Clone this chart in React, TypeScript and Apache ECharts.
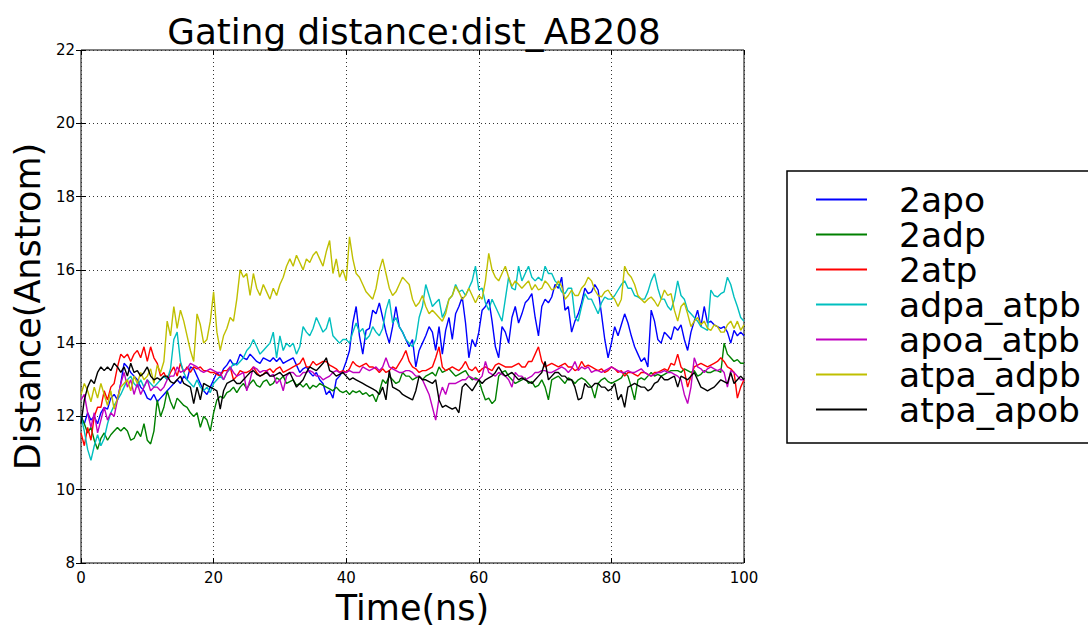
import React, { useEffect, useRef } from "react";
import * as echarts from "echarts";

// Sampling interval of the trajectories (ns)
const TIME_STEP = 0.5;

const SERIES_NAMES = ["2apo", "2adp", "2atp", "adpa_atpb", "apoa_atpb", "atpa_adpb", "atpa_apob"];
const SERIES_COLORS = ["#0000ff", "#008000", "#ff0000", "#00bfbf", "#bf00bf", "#bfbf00", "#000000"];

const X_TICKS = [0, 20, 40, 60, 80, 100];
const Y_TICKS = [8, 10, 12, 14, 16, 18, 20, 22];

// dist_AB208 (Angstrom), one value every 0.5 ns from 0 to 100 ns
const apo2 = [
  12.0, 11.8, 12.1, 11.9, 12.0, 11.8, 12.1, 12.25, 12.2, 12.5, 12.6, 12.45, 12.9, 13.45, 13.35, 13.2, 13.1, 13.0, 12.8, 12.7,
  12.5, 12.45, 12.6, 12.4, 12.5, 12.6, 12.7, 12.8, 12.9, 13.0, 12.9, 13.1, 13.0, 13.35, 13.3, 13.1, 12.9, 12.7, 12.6, 12.8,
  13.0, 13.2, 13.1, 13.3, 13.4, 13.55, 13.4, 13.45, 13.7, 13.6, 13.55, 13.7, 13.6, 13.5, 13.45, 13.6, 13.55, 13.5, 13.6, 13.5,
  13.6, 13.45, 13.5, 13.55, 13.6, 13.4, 13.2, 13.3, 13.35, 13.2, 13.1, 13.2, 13.0, 12.9, 12.6, 12.7, 12.5, 13.0, 13.1, 13.25,
  13.5, 13.8, 14.55, 15.0, 14.2, 13.7, 14.35, 14.4, 14.9, 14.8, 15.1, 14.7, 14.3, 14.0, 14.45, 15.0, 14.45, 14.3, 14.1, 13.9,
  14.1, 13.35, 13.8, 14.0, 14.2, 14.45, 14.3, 13.8, 14.45, 13.7, 14.35, 14.7, 14.1, 14.8, 15.0, 15.26, 14.55, 13.6, 14.1, 13.9,
  14.3, 14.9, 15.0, 15.2, 14.6, 13.9, 13.6, 14.45, 14.3, 14.0, 14.7, 15.0, 14.55, 14.8, 15.1, 15.2, 15.35, 14.7, 14.2, 15.0,
  15.2, 15.1, 15.26, 15.6, 15.5, 15.8, 14.9, 15.0, 14.3, 14.6, 14.8, 15.1, 15.5, 15.35, 15.4, 15.6, 15.45, 14.8, 14.1, 13.6,
  14.0, 14.45, 14.2, 14.5, 14.8, 14.55, 14.2, 13.9, 13.7, 13.5, 13.6, 13.35, 14.9, 14.6, 14.1, 14.0, 14.3, 14.2, 14.1, 14.45,
  14.35, 14.5, 14.1, 13.8, 14.3, 14.6, 14.9, 14.45, 15.0, 14.55, 14.6, 14.5, 14.45, 14.4, 14.45, 14.3, 14.0, 14.35, 14.2, 14.3,
  14.2,
];

const adp2 = [
  12.0, 11.8, 11.55, 11.7, 11.35, 11.1, 11.4, 11.55, 11.35, 11.5, 11.6, 11.7, 11.6, 11.7, 11.6, 11.35, 11.4, 11.6, 11.45, 11.8,
  11.35, 11.25, 11.6, 12.45, 12.0, 12.25, 12.7, 12.4, 12.2, 12.5, 12.4, 12.3, 12.25, 12.1, 12.0, 12.1, 11.7, 12.0, 11.9, 11.6,
  12.1, 12.45, 12.55, 12.5, 12.65, 12.7, 12.8, 12.65, 12.8, 12.9, 12.75, 12.9, 13.0, 12.85, 12.8, 12.95, 13.0, 12.85, 12.9, 13.05,
  13.0, 13.1, 12.9, 12.95, 13.0, 12.85, 12.9, 12.8, 12.9, 12.75, 12.85, 12.8, 12.9, 12.85, 12.8, 12.75, 12.7, 12.8, 12.7, 12.65,
  12.7, 12.6, 12.7, 12.65, 12.7, 12.6, 12.65, 12.55, 12.6, 12.4, 12.67, 13.0, 12.9, 13.1, 13.0, 12.9, 12.95, 13.2, 13.1, 13.1,
  13.0, 13.05, 13.1, 13.0, 13.1, 13.15, 13.2, 13.1, 13.35, 13.2, 13.25, 13.3, 13.2, 13.1, 13.15, 13.2, 13.25, 13.1, 13.0, 13.05,
  13.0, 12.7, 12.45, 12.5, 12.35, 12.45, 13.1, 13.2, 13.25, 13.1, 13.0, 12.9, 12.95, 13.0, 13.05, 12.9, 12.95, 12.8, 12.85, 13.0,
  12.8, 12.45, 13.0, 13.05, 13.1, 13.0, 12.9, 13.05, 13.0, 12.9, 13.0, 13.05, 13.0, 12.9, 12.8, 12.5, 12.9, 13.0, 13.05, 12.95,
  12.9, 12.95, 13.0, 13.05, 13.2, 13.1, 12.8, 12.45, 13.0, 13.05, 13.0, 13.1, 13.2, 13.1, 13.15, 13.1, 13.15, 13.2, 13.25, 13.25,
  13.25, 13.2, 13.3, 13.25, 13.2, 13.25, 13.1, 13.15, 13.25, 13.2, 13.2, 13.25, 13.25, 13.2, 14.0, 13.7, 13.6, 13.5, 13.55, 13.45,
  13.45,
];

const atp2 = [
  11.55, 11.2, 11.7, 11.35, 12.0, 12.25, 12.25, 12.7, 12.45, 12.8, 12.9, 13.35, 13.7, 13.6, 13.7, 13.5, 13.7, 13.8, 13.6, 13.9,
  13.5, 13.9, 13.6, 13.45, 13.1, 13.2, 13.0, 13.2, 13.35, 13.1, 13.45, 13.2, 13.35, 13.2, 13.35, 13.3, 13.35, 13.25, 13.25, 13.2,
  13.2, 13.15, 13.1, 13.25, 13.25, 13.35, 13.0, 13.1, 13.25, 13.2, 13.2, 13.25, 13.35, 13.2, 13.1, 13.15, 13.25, 13.3, 13.2, 13.3,
  13.35, 13.2, 13.25, 13.3, 13.35, 13.4, 13.45, 13.6, 13.35, 13.35, 13.5, 13.4, 13.45, 13.5, 13.5, 13.4, 13.35, 13.3, 13.2, 13.25,
  13.2, 13.3, 13.5, 13.4, 13.35, 13.4, 13.45, 13.35, 13.35, 13.3, 13.2, 13.3, 13.2, 13.25, 13.35, 13.3, 13.45, 13.6, 13.8, 13.5,
  13.35, 13.3, 13.2, 13.25, 13.25, 13.3, 13.35, 13.6, 13.9, 13.35, 13.25, 13.3, 13.35, 13.3, 13.25, 13.35, 13.5, 13.3, 13.25, 13.35,
  13.2, 13.3, 13.35, 13.3, 13.25, 13.4, 13.45, 13.4, 13.35, 13.35, 13.35, 13.4, 13.45, 13.35, 13.35, 13.5, 13.5, 13.7, 13.9, 13.5,
  13.35, 13.4, 13.45, 13.4, 13.35, 13.4, 13.45, 13.35, 13.35, 13.25, 13.3, 13.5, 13.35, 13.4, 13.35, 13.3, 13.25, 13.3, 13.2, 13.25,
  13.35, 13.3, 13.2, 13.25, 13.1, 13.2, 13.2, 13.15, 13.1, 13.2, 13.2, 13.15, 13.1, 13.2, 13.2, 13.25, 13.3, 13.25, 13.45, 13.4,
  13.7, 13.35, 13.25, 12.8, 13.1, 13.35, 13.4, 13.45, 13.4, 13.35, 13.4, 13.45, 13.5, 13.6, 13.5, 13.35, 13.3, 13.2, 12.5, 12.8,
  13.0,
];

const adpaAtpb = [
  12.0, 11.6, 11.1, 10.8, 11.2, 11.5, 11.2, 11.4, 11.8, 12.1, 12.3, 12.45, 12.6, 12.8, 13.0, 13.1, 12.9, 12.8, 13.0, 12.8,
  13.0, 12.9, 12.8, 12.9, 13.0, 13.1, 13.0, 13.3, 14.1, 14.3, 13.5, 13.2, 13.0, 12.9, 12.8, 13.0, 12.8, 12.7, 12.8, 12.65,
  12.9, 13.0, 13.1, 13.0, 13.2, 13.3, 13.45, 13.4, 13.5, 13.6, 13.8, 13.9, 14.1, 13.9, 13.7, 13.8, 13.9, 14.0, 14.3, 13.6,
  14.2, 13.8, 14.0, 13.9, 14.0, 13.7, 13.9, 14.45, 14.3, 14.2, 14.4, 14.7, 14.5, 14.3, 14.4, 14.7, 14.2, 14.1, 14.0, 14.1,
  14.1, 14.0, 14.3, 14.55, 14.3, 14.4, 14.1, 14.2, 14.45, 14.3, 14.2, 14.4, 14.9, 15.2, 14.55, 14.7, 14.45, 14.3, 14.1, 14.0,
  13.9, 14.1, 14.7, 15.0, 15.6, 15.3, 15.0, 15.1, 15.2, 14.7, 14.9, 15.2, 15.3, 15.6, 15.4, 15.45, 15.3, 15.5, 15.7, 16.1,
  15.45, 15.5, 15.1, 14.9, 15.2, 15.0, 14.8, 14.6, 15.2, 15.8, 15.5, 15.45, 16.1, 15.7, 15.9, 16.1, 15.8, 15.7, 15.8, 15.7,
  16.1, 15.9, 15.9, 15.7, 15.6, 15.4, 15.35, 15.5, 15.5, 14.7, 14.6, 15.0, 15.35, 15.2, 15.2, 15.0, 14.8, 15.1, 15.26, 15.2,
  15.2, 15.3, 15.45, 15.6, 15.7, 15.5, 15.5, 15.3, 15.26, 15.2, 15.2, 15.4, 15.7, 15.9, 15.5, 15.2, 15.2, 15.0, 14.9, 15.2,
  15.7, 15.3, 15.2, 14.9, 14.8, 14.7, 14.6, 14.45, 14.4, 14.35, 15.45, 15.3, 15.26, 15.35, 15.4, 15.8, 15.6, 15.26, 15.0, 14.7,
  14.6,
];

const apoaAtpb = [
  12.45, 12.6, 12.1, 11.7, 12.1, 11.55, 11.9, 12.25, 11.9, 12.1, 12.0, 12.45, 12.9, 13.2, 12.8, 13.0, 12.6, 12.9, 12.6, 12.8,
  13.0, 12.7, 12.8, 12.8, 12.7, 12.8, 13.0, 13.1, 13.1, 13.35, 13.2, 13.25, 13.3, 13.45, 13.4, 13.35, 13.25, 13.2, 13.25, 13.3,
  13.25, 13.2, 13.2, 13.0, 13.2, 13.35, 13.2, 13.1, 13.15, 13.2, 12.7, 13.0, 13.35, 13.3, 13.2, 13.25, 13.25, 13.1, 13.15, 12.9,
  13.0, 12.7, 13.1, 13.2, 13.2, 13.1, 13.1, 13.2, 13.2, 13.25, 13.2, 13.1, 13.1, 13.0, 13.05, 13.1, 13.2, 13.25, 13.2, 13.2,
  13.2, 13.25, 13.2, 13.2, 13.2, 13.35, 13.3, 13.25, 13.3, 13.35, 13.25, 13.35, 13.6, 13.35, 13.3, 13.25, 13.2, 13.2, 13.25, 13.25,
  13.2, 13.1, 13.1, 13.0, 12.8, 12.6, 12.25, 11.9, 12.5, 12.8, 12.6, 12.9, 12.9, 12.9, 12.95, 13.0, 13.0, 13.1, 13.05, 13.0,
  13.0, 13.1, 13.5, 13.2, 13.15, 13.1, 13.2, 13.15, 13.1, 13.0, 12.8, 13.2, 13.1, 13.1, 13.0, 13.05, 13.1, 13.2, 13.2, 13.25,
  13.25, 13.2, 13.2, 13.25, 13.3, 13.35, 13.3, 13.2, 13.3, 13.5, 13.25, 13.35, 13.3, 13.35, 13.2, 13.25, 13.25, 13.2, 13.25, 13.3,
  13.35, 13.3, 13.25, 13.2, 13.2, 13.25, 13.2, 13.2, 13.25, 13.3, 13.2, 13.15, 13.1, 13.15, 13.2, 13.2, 13.25, 13.2, 13.2, 13.15,
  13.1, 13.0, 12.6, 12.35, 12.8, 13.6, 13.35, 13.3, 13.2, 13.3, 13.35, 13.3, 13.25, 13.3, 13.2, 12.8, 13.25, 13.2, 13.1, 13.0,
  13.0,
];

const atpaAdpb = [
  12.6, 12.9, 12.7, 12.4, 12.8, 12.5, 12.9, 12.6, 12.3, 12.7, 12.2, 12.5, 12.8, 12.9, 13.0, 12.7, 13.1, 12.9, 13.2, 13.0,
  13.1, 13.3, 12.9, 13.4, 13.2, 13.5, 14.6, 14.2, 15.0, 14.4, 14.9, 14.6, 14.2, 13.8, 13.5, 14.8, 14.5, 14.0, 14.1, 14.6,
  15.4, 14.3, 13.8, 14.2, 14.4, 14.7, 14.6, 15.2, 16.0, 15.8, 15.9, 15.3, 15.9, 15.5, 15.3, 15.6, 15.4, 15.2, 15.5, 15.3,
  15.6, 15.8, 16.1, 16.3, 16.1, 16.4, 16.2, 16.0, 16.3, 16.2, 16.4, 16.5, 16.3, 16.1, 16.5, 16.8, 15.9, 16.3, 15.8, 16.0,
  15.7, 16.9, 16.3, 15.9, 15.8, 15.6, 15.4, 15.3, 15.2, 15.5, 16.0, 16.3, 15.9, 15.5, 15.3, 15.4, 15.6, 15.8, 15.7, 15.6,
  15.2, 15.0, 15.1, 15.3, 15.0, 14.8, 14.9, 14.8, 14.7, 14.6, 14.8, 15.2, 15.3, 15.55, 15.4, 15.2, 15.3, 15.5, 15.3, 15.1,
  15.3, 15.2, 15.7, 16.45, 16.0, 15.8, 15.7, 15.9, 16.1, 15.8, 15.55, 15.7, 15.6, 15.5, 15.6, 15.7, 15.45, 15.6, 15.45, 15.5,
  15.7, 15.6, 15.45, 15.5, 15.7, 15.55, 15.2, 15.3, 15.45, 15.3, 15.3, 15.5, 15.6, 15.8, 15.7, 15.45, 15.3, 15.26, 15.4, 15.45,
  15.3, 15.2, 15.0, 15.2, 16.1, 15.9, 15.8, 15.6, 15.3, 15.2, 15.1, 15.2, 15.26, 15.15, 15.0, 15.2, 15.45, 15.3, 15.35, 14.9,
  14.6, 15.0, 15.1, 14.8, 14.45, 14.6, 14.7, 14.5, 14.6, 14.4, 14.35, 14.5, 14.45, 14.3, 14.3, 14.5, 14.6, 14.4, 14.6, 14.35,
  14.5,
];

const atpaApob = [
  11.8, 12.45, 12.8, 13.0, 12.9, 13.2, 13.35, 13.25, 13.35, 13.25, 13.45, 13.35, 13.2, 13.35, 13.1, 13.45, 13.2, 13.25, 13.1, 13.2,
  13.35, 13.1, 13.0, 13.05, 13.0, 13.1, 13.1, 12.95, 12.9, 13.0, 13.1, 12.9, 12.85, 12.8, 12.35, 12.8, 12.45, 12.9, 12.85, 12.8,
  12.75, 12.7, 12.2, 12.7, 12.9, 12.95, 13.0, 12.9, 12.9, 13.0, 13.1, 13.2, 13.25, 13.15, 13.1, 13.15, 13.2, 13.1, 13.1, 13.15,
  13.2, 13.1, 13.15, 13.2, 13.0, 12.8, 12.9, 13.0, 13.2, 13.35, 13.3, 13.25, 13.35, 13.45, 13.6, 13.25, 13.2, 13.1, 13.15, 13.2,
  13.1, 13.0, 13.05, 13.0, 12.95, 12.9, 12.85, 12.8, 12.75, 12.7, 12.6, 12.8, 12.45, 13.25, 12.8, 12.75, 12.7, 12.6, 12.55, 12.5,
  12.45, 12.7, 13.1, 13.0, 13.0, 12.95, 12.9, 13.0, 12.45, 12.25, 12.3, 12.25, 12.2, 12.25, 12.1, 12.8, 12.9, 12.8, 12.7, 12.85,
  13.0, 12.9, 13.0, 13.05, 13.1, 13.2, 13.35, 13.2, 13.1, 13.15, 13.2, 13.1, 13.0, 13.05, 13.0, 12.95, 12.9, 13.0, 13.1, 13.2,
  13.5, 13.0, 13.1, 13.2, 13.2, 13.1, 13.1, 13.0, 13.0, 12.8, 12.45, 12.5, 12.9, 12.8, 12.8, 12.9, 12.9, 12.8, 12.8, 12.7,
  12.75, 12.9, 12.45, 12.6, 12.25, 12.8, 12.85, 12.9, 12.85, 12.8, 12.8, 12.7, 12.75, 12.9, 12.95, 13.1, 13.0, 13.0, 13.05, 13.1,
  12.8, 13.1, 13.05, 13.0, 13.1, 13.2, 13.0, 12.8, 12.75, 12.7, 12.75, 12.8, 12.9, 13.0, 12.95, 12.9, 13.2, 12.9, 13.0, 13.1,
  13.0,
];

const SERIES_VALUES = [apo2, adp2, atp2, adpaAtpb, apoaAtpb, atpaAdpb, atpaApob];

const FONT = "DejaVu Sans";

export default function App() {
  const ref = useRef<HTMLDivElement>(null);

  useEffect(() => {
    if (!ref.current) return;
    const chart = echarts.init(ref.current, undefined, { renderer: "svg" });

    // Plot frame in pixels
    const plotLeft = 81;
    const plotTop = 50;
    const plotWidth = 663;
    const plotHeight = 513;

    const tickStyle = { inside: true, length: 5, lineStyle: { color: "#000", width: 1 } };
    const dotted = { show: true, lineStyle: { color: "#333", width: 1, type: [1, 3] } };

    const option = {
      animation: false,
      backgroundColor: "#ffffff",
      textStyle: { fontFamily: FONT },
      title: {
        text: "Gating distance:dist_AB208",
        left: 409,
        top: 8,
        textAlign: "center",
        textStyle: { fontFamily: FONT, fontSize: 35.7, fontWeight: "normal", color: "#000" },
      },
      grid: {
        left: plotLeft,
        top: plotTop,
        width: plotWidth,
        height: plotHeight,
        outerBoundsMode: "none",
        containLabel: false,
        show: true,
        borderColor: "#000",
        borderWidth: 1,
        backgroundColor: "transparent",
      },
      legend: {
        orient: "vertical",
        left: 811,
        top: 177,
        icon: "rect",
        itemWidth: 51,
        itemHeight: 2,
        itemGap: 0,
        data: SERIES_NAMES,
        textStyle: {
          fontFamily: FONT,
          fontSize: 34.5,
          lineHeight: 35,
          color: "#000",
          padding: [0, 0, 0, 27],
        },
      },
      graphic: [
        {
          type: "rect",
          shape: { x: 787, y: 171, width: 330, height: 272 },
          style: { fill: "none", stroke: "#000", lineWidth: 1.5 },
          silent: true,
        },
      ],
      xAxis: [
        {
          type: "value",
          min: X_TICKS[0],
          max: X_TICKS[X_TICKS.length - 1],
          interval: X_TICKS[1] - X_TICKS[0],
          position: "bottom",
          name: "Time(ns)",
          nameLocation: "middle",
          nameGap: 27,
          nameTextStyle: { fontFamily: FONT, fontSize: 35, color: "#000" },
          axisLine: { show: false },
          axisTick: tickStyle,
          axisLabel: { fontFamily: FONT, fontSize: 15, color: "#000", margin: 7 },
          splitLine: dotted,
        },
        {
          type: "value",
          min: X_TICKS[0],
          max: X_TICKS[X_TICKS.length - 1],
          interval: X_TICKS[1] - X_TICKS[0],
          position: "top",
          axisLine: { show: false },
          axisTick: tickStyle,
          axisLabel: { show: false },
          splitLine: { show: false },
        },
      ],
      yAxis: [
        {
          type: "value",
          min: Y_TICKS[0],
          max: Y_TICKS[Y_TICKS.length - 1],
          interval: Y_TICKS[1] - Y_TICKS[0],
          position: "left",
          name: "Distance(Anstrom)",
          nameLocation: "middle",
          nameGap: 36,
          nameTextStyle: { fontFamily: FONT, fontSize: 35, color: "#000" },
          axisLine: { show: false },
          axisTick: tickStyle,
          axisLabel: { fontFamily: FONT, fontSize: 15, color: "#000", margin: 6 },
          splitLine: dotted,
        },
        {
          type: "value",
          min: Y_TICKS[0],
          max: Y_TICKS[Y_TICKS.length - 1],
          interval: Y_TICKS[1] - Y_TICKS[0],
          position: "right",
          axisLine: { show: false },
          axisTick: tickStyle,
          axisLabel: { show: false },
          splitLine: { show: false },
        },
      ],
      series: SERIES_NAMES.map((name, k) => ({
        name,
        type: "line",
        xAxisIndex: 0,
        yAxisIndex: 0,
        showSymbol: false,
        symbol: "none",
        color: SERIES_COLORS[k],
        lineStyle: { color: SERIES_COLORS[k], width: 1.4 },
        data: SERIES_VALUES[k].map((v, i) => [i * TIME_STEP, v]),
      })),
    };

    chart.setOption(option as any);
    return () => chart.dispose();
  }, []);

  return (
    <div
      ref={ref}
      style={{ position: "absolute", left: 0, top: 0, width: 1088, height: 626, background: "#fff" }}
    />
  );
}
